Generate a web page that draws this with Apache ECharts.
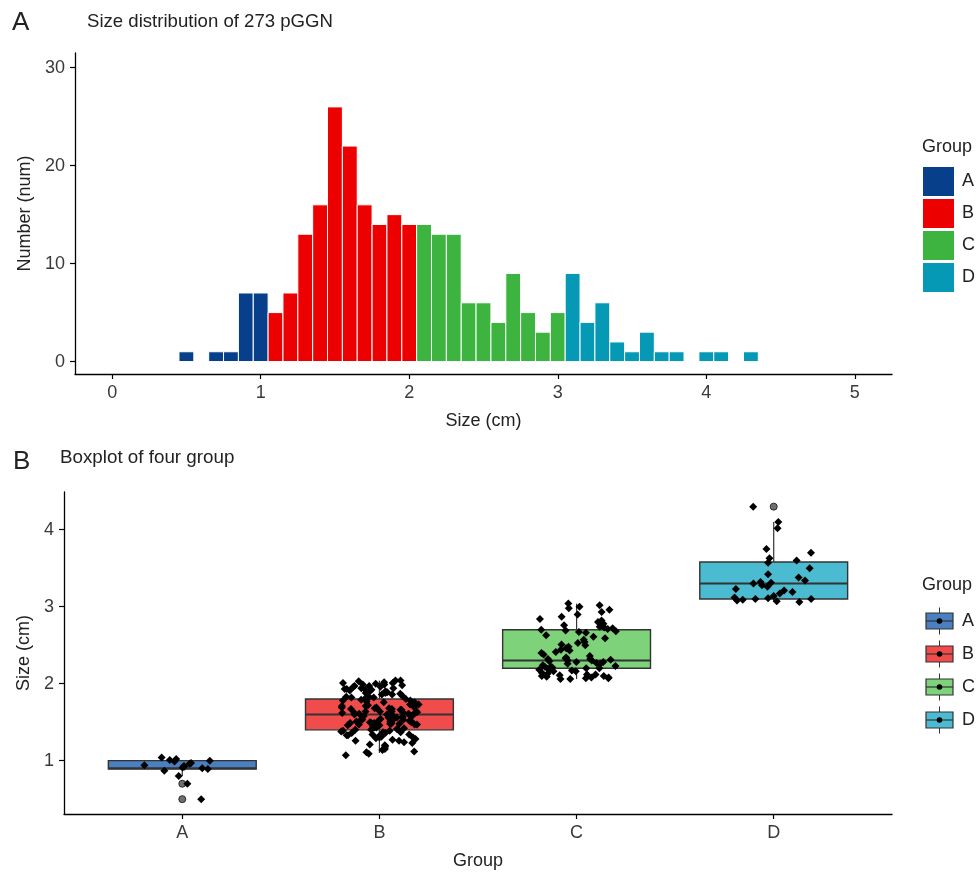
<!DOCTYPE html>
<html><head><meta charset="utf-8">
<script src="https://cdn.jsdelivr.net/npm/echarts@6/dist/echarts.min.js"></script>
<style>html,body{margin:0;padding:0;background:#fff}#c{width:978px;height:872px}</style>
</head><body><div id="c"></div>
<script>
// ---------- data ----------
const groups = ['A', 'B', 'C', 'D'];

// Panel A: histogram (bin centre, count) per group
const binsA = [0.5, 0.7, 0.8, 0.9, 1.0];
const countsA = [1, 1, 1, 7, 7];
const binsB = [1.1, 1.2, 1.3, 1.4, 1.5, 1.6, 1.7, 1.8, 1.9, 2.0];
const countsB = [5, 7, 13, 16, 26, 22, 16, 14, 15, 14];
const binsC = [2.1, 2.2, 2.3, 2.4, 2.5, 2.6, 2.7, 2.8, 2.9, 3.0];
const countsC = [14, 13, 13, 6, 6, 4, 9, 5, 3, 5];
const binsD = [3.1, 3.2, 3.3, 3.4, 3.5, 3.6, 3.7, 3.8, 4.0, 4.1, 4.3];
const countsD = [9, 4, 6, 2, 1, 3, 1, 1, 1, 1, 1];
const binWidth = 0.1;
const histXTicks = [0, 1, 2, 3, 4, 5];
const histYTicks = [0, 10, 20, 30];

// Panel B: box statistics [low whisker, Q1, median, Q3, high whisker]
const boxA = [0.80, 0.89, 0.90, 1.00, 1.00];
const boxB = [1.10, 1.40, 1.60, 1.80, 2.04];
const boxC = [2.06, 2.20, 2.30, 2.70, 3.04];
const boxD = [3.06, 3.10, 3.30, 3.58, 4.10];
const outliersA = [0.50, 0.70];
const outliersB = [];
const outliersC = [];
const outliersD = [4.30];
const boxYTicks = [1, 2, 3, 4];

// Panel B: individual sizes (cm) per group
const sizesA = [0.50, 0.70, 0.80, 0.87, 0.89, 0.90, 0.91, 0.92, 0.93, 0.94,
  0.96, 0.97, 0.99, 1.00, 1.01, 1.02, 1.04];
const sizesB = [1.07, 1.09, 1.11, 1.12, 1.14,
  1.15, 1.17, 1.19, 1.20, 1.21, 1.23, 1.24,
  1.26, 1.26, 1.27, 1.28, 1.29, 1.30, 1.30, 1.31, 1.32, 1.33, 1.33, 1.34, 1.34,
  1.36, 1.36, 1.37, 1.37, 1.38, 1.39, 1.39, 1.40, 1.40, 1.41, 1.41, 1.42, 1.43, 1.43, 1.44, 1.44,
  1.46, 1.46, 1.46, 1.47, 1.47, 1.47, 1.48, 1.48, 1.48, 1.49, 1.49, 1.49, 1.50, 1.50, 1.50,
  1.51, 1.51, 1.51, 1.52, 1.52, 1.52, 1.53, 1.53, 1.54, 1.54, 1.54,
  1.56, 1.56, 1.56, 1.57, 1.57, 1.58, 1.58, 1.59, 1.59, 1.60, 1.60, 1.60, 1.61, 1.61,
  1.62, 1.62, 1.63, 1.63, 1.64, 1.64, 1.64, 1.64,
  1.66, 1.66, 1.67, 1.67, 1.68, 1.68, 1.69, 1.69, 1.70, 1.70, 1.71, 1.71, 1.72, 1.73, 1.73, 1.74,
  1.76, 1.76, 1.77, 1.78, 1.78, 1.79, 1.80, 1.80, 1.81, 1.82, 1.82, 1.83, 1.84, 1.84,
  1.86, 1.86, 1.87, 1.88, 1.88, 1.89, 1.90, 1.90, 1.91, 1.92, 1.92, 1.93, 1.93, 1.94, 1.94,
  1.96, 1.96, 1.97, 1.97, 1.98, 1.99, 1.99, 2.00, 2.01, 2.01, 2.02, 2.03, 2.04, 2.04];
const sizesC = [2.06, 2.06, 2.07, 2.07, 2.08, 2.08, 2.09, 2.10, 2.10, 2.11, 2.12, 2.12, 2.13, 2.14,
  2.16, 2.16, 2.17, 2.18, 2.18, 2.19, 2.20, 2.20, 2.21, 2.22, 2.22, 2.23, 2.24,
  2.26, 2.26, 2.27, 2.28, 2.28, 2.29, 2.30, 2.30, 2.31, 2.32, 2.32, 2.33, 2.34,
  2.36, 2.38, 2.40, 2.41, 2.43, 2.44,
  2.46, 2.48, 2.50, 2.51, 2.53, 2.54,
  2.57, 2.59, 2.61, 2.63,
  2.66, 2.67, 2.68, 2.69, 2.70, 2.71, 2.72, 2.73, 2.74,
  2.76, 2.78, 2.80, 2.82, 2.84,
  2.87, 2.90, 2.93,
  2.96, 2.98, 3.00, 3.02, 3.04];
const sizesD = [3.06, 3.07, 3.08, 3.09, 3.10, 3.10, 3.11, 3.12, 3.14,
  3.17, 3.19, 3.21, 3.23,
  3.26, 3.28, 3.30, 3.31, 3.32, 3.34,
  3.38, 3.42, 3.50, 3.57, 3.60, 3.63, 3.70, 3.75, 4.02, 4.10, 4.30];

// ---------- styling ----------
const histColors = ['#073f8a', '#ec0000', '#3db43f', '#0699b6'];
const boxColors = ['#4a7fc0', '#f04c4c', '#7dd27a', '#4bbbd1'];
const FONT = '"Liberation Sans", Arial, Helvetica, sans-serif';
const TXT = '#222';
const TICKTXT = '#3a3a3a';
const BOXW = 0.75;
const JITTER = 0.2;

const hist = [[binsA, countsA], [binsB, countsB], [binsC, countsC], [binsD, countsD]];
const boxes = [boxA, boxB, boxC, boxD];
const outs = [outliersA, outliersB, outliersC, outliersD];
const sizes = [sizesA, sizesB, sizesC, sizesD];

const chart = echarts.init(document.getElementById('c'), null, {renderer: 'canvas'});

function axisCommon() {
  return {
    axisLine: {show: true, onZero: false, lineStyle: {color: '#000', width: 1.3}},
    axisTick: {show: true, length: 5, lineStyle: {color: '#000', width: 1.2}},
    splitLine: {show: false},
    nameTextStyle: {fontFamily: FONT, fontSize: 18, color: TXT},
  };
}

const series = [];
groups.forEach((g, gi) => {
  const [bins, counts] = hist[gi];
  series.push({
    type: 'custom', name: g, xAxisIndex: 0, yAxisIndex: 0,
    itemStyle: {color: histColors[gi]},
    encode: {x: 0, y: 1},
    data: bins.map((b, i) => [b, counts[i]]),
    renderItem: function (params, api) {
      const x = api.value(0), y = api.value(1);
      const p0 = api.coord([x - binWidth / 2, y]);
      const p1 = api.coord([x + binWidth / 2, 0]);
      return {
        type: 'rect',
        shape: {x: p0[0], y: p0[1], width: p1[0] - p0[0], height: p1[1] - p0[1]},
        style: {fill: histColors[gi], stroke: '#fff', lineWidth: 1}
      };
    }
  });
});

// boxes
series.push({
  type: 'custom', name: 'box', xAxisIndex: 1, yAxisIndex: 1,
  encode: {x: 0, y: [1, 2, 3, 4, 5]},
  data: boxes.map((b, i) => [i + 1].concat(b)),
  z: 2,
  renderItem: function (params, api) {
    const x = api.value(0);
    const lo = api.value(1), q1 = api.value(2), md = api.value(3), q3 = api.value(4), hi = api.value(5);
    const pLo = api.coord([x, lo]), pQ1 = api.coord([x, q1]), pMd = api.coord([x, md]),
      pQ3 = api.coord([x, q3]), pHi = api.coord([x, hi]);
    const l = api.coord([x - BOXW / 2, q3])[0], r = api.coord([x + BOXW / 2, q3])[0];
    const st = {stroke: '#333', lineWidth: 1.2};
    return {
      type: 'group', children: [
        {type: 'line', shape: {x1: pLo[0], y1: pLo[1], x2: pQ1[0], y2: pQ1[1]}, style: st},
        {type: 'line', shape: {x1: pQ3[0], y1: pQ3[1], x2: pHi[0], y2: pHi[1]}, style: st},
        {type: 'rect', shape: {x: l, y: pQ3[1], width: r - l, height: pQ1[1] - pQ3[1]},
          style: {fill: boxColors[params.dataIndex], stroke: '#333', lineWidth: 1.4}},
        {type: 'line', shape: {x1: l, y1: pMd[1], x2: r, y2: pMd[1]}, style: {stroke: '#333', lineWidth: 2}}
      ]
    };
  }
});

// outliers
const outData = [];
outs.forEach((arr, gi) => arr.forEach(v => outData.push([gi + 1, v])));
series.push({
  type: 'scatter', name: 'outliers', xAxisIndex: 1, yAxisIndex: 1, z: 3,
  symbol: 'circle', symbolSize: 7,
  itemStyle: {color: '#6f6f6f', borderColor: '#2a2a2a', borderWidth: 1, opacity: 1},
  data: outData
});

// jittered points: horizontal jitter only (deterministic layout offset, value unchanged)
function jitterOffset(i, gi) {
  const s = Math.sin((i + 1) * 12.9898 + (gi + 1) * 78.233) * 43758.5453;
  return (s - Math.floor(s)) - 0.5;
}
const ptData = [];
sizes.forEach((arr, gi) => arr.forEach((v, i) => {
  ptData.push([gi + 1 + jitterOffset(i, gi) * 2 * JITTER, v]);
}));
series.push({
  type: 'scatter', name: 'points', xAxisIndex: 1, yAxisIndex: 1, z: 4,
  symbol: 'diamond', symbolSize: 8,
  itemStyle: {color: '#000', opacity: 1},
  data: ptData
});

// legend B + texts
const graphic = [
  {type: 'text', x: 12, y: 23, style: {text: 'A', fontSize: 26, fontFamily: FONT, fill: TXT, verticalAlign: 'middle'}},
  {type: 'text', x: 87, y: 22, style: {text: 'Size distribution of 273 pGGN', fontSize: 18.6, fontFamily: FONT, fill: TXT, verticalAlign: 'middle'}},
  {type: 'text', x: 13, y: 462, style: {text: 'B', fontSize: 26, fontFamily: FONT, fill: TXT, verticalAlign: 'middle'}},
  {type: 'text', x: 60, y: 458, style: {text: 'Boxplot of four group', fontSize: 18.8, fontFamily: FONT, fill: TXT, verticalAlign: 'middle'}},
  {type: 'text', x: 922, y: 147, style: {text: 'Group', fontSize: 18, fontFamily: FONT, fill: TXT, verticalAlign: 'middle'}},
  {type: 'text', x: 922, y: 585, style: {text: 'Group', fontSize: 18, fontFamily: FONT, fill: TXT, verticalAlign: 'middle'}},
];
const legBY = [621, 654, 687, 720];
groups.forEach((g, i) => {
  const cy = legBY[i];
  graphic.push(
    {type: 'line', shape: {x1: 939.5, y1: cy - 13.5, x2: 939.5, y2: cy + 13.5}, style: {stroke: '#333', lineWidth: 1}},
    {type: 'rect', shape: {x: 926, y: cy - 8, width: 27, height: 16}, style: {fill: boxColors[i], stroke: '#333', lineWidth: 1.2}},
    {type: 'line', shape: {x1: 926, y1: cy, x2: 953, y2: cy}, style: {stroke: '#333', lineWidth: 1.2}},
    {type: 'circle', shape: {cx: 939.5, cy: cy, r: 2.8}, style: {fill: '#000'}},
    {type: 'text', x: 962, y: cy, style: {text: g, fontSize: 18, fontFamily: FONT, fill: TXT, verticalAlign: 'middle'}}
  );
});

chart.setOption({
  animation: false,
  backgroundColor: '#fff',
  textStyle: {fontFamily: FONT},
  grid: [
    {left: 75, top: 53, width: 817, height: 321},
    {left: 64, top: 492, width: 828, height: 322}
  ],
  legend: {
    data: groups, orient: 'vertical', left: 923, top: 167, padding: 0,
    itemWidth: 31, itemHeight: 29, itemGap: 3, icon: 'rect', selectedMode: false,
    textStyle: {fontFamily: FONT, fontSize: 18, color: TXT, padding: [0, 0, 0, 3]}
  },
  xAxis: [
    Object.assign(axisCommon(), {
      type: 'value', gridIndex: 0, min: -0.25, max: 5.25,
      name: 'Size (cm)', nameLocation: 'middle', nameGap: 38,
      axisLabel: {customValues: histXTicks, fontSize: 18, color: TICKTXT, margin: 10, fontFamily: FONT},
      axisTick: {show: true, customValues: histXTicks, length: 5, lineStyle: {color: '#000', width: 1.2}}
    }),
    Object.assign(axisCommon(), {
      type: 'value', gridIndex: 1, min: 0.4, max: 4.6,
      name: 'Group', nameLocation: 'middle', nameGap: 38,
      axisLabel: {customValues: [1, 2, 3, 4], fontSize: 18, color: TICKTXT, margin: 10, fontFamily: FONT,
        formatter: v => groups[Math.round(v) - 1] || ''},
      axisTick: {show: true, customValues: [1, 2, 3, 4], length: 5, lineStyle: {color: '#000', width: 1.2}}
    })
  ],
  yAxis: [
    Object.assign(axisCommon(), {
      type: 'value', gridIndex: 0, min: -1.27, max: 31.5,
      name: 'Number (num)', nameLocation: 'middle', nameGap: 33, nameRotate: 90,
      axisLabel: {customValues: histYTicks, fontSize: 18, color: TICKTXT, margin: 10, fontFamily: FONT},
      axisTick: {show: true, customValues: histYTicks, length: 5, lineStyle: {color: '#000', width: 1.2}}
    }),
    Object.assign(axisCommon(), {
      type: 'value', gridIndex: 1, min: 0.307, max: 4.49,
      name: 'Size (cm)', nameLocation: 'middle', nameGap: 25, nameRotate: 90,
      axisLabel: {customValues: boxYTicks, fontSize: 18, color: TICKTXT, margin: 10, fontFamily: FONT},
      axisTick: {show: true, customValues: boxYTicks, length: 5, lineStyle: {color: '#000', width: 1.2}}
    })
  ],
  series: series,
  graphic: graphic
});
</script></body></html>
